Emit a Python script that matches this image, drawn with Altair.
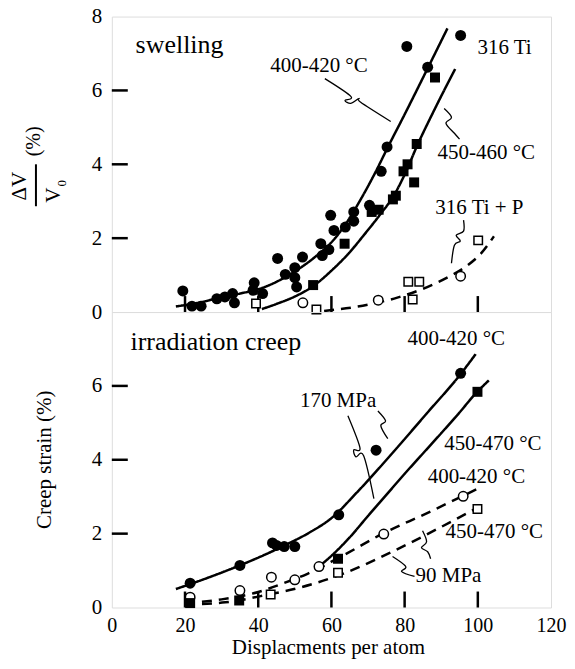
import altair as alt
import pandas as pd

FONT = "Liberation Serif, Times New Roman, Times, DejaVu Serif, serif"
W, H = 440, 296

# ---------------- swelling panel data ----------------
sw_fc_x = [19.4, 21.9, 24.4, 28.7, 30.9, 33.0, 33.5, 38.9, 38.6, 41.2, 45.3, 47.4, 50.0, 50.0, 50.5,
           52.1, 57.1, 57.5, 59.3, 59.8, 60.7, 63.8, 66.1, 66.1, 70.4, 73.6, 75.2, 80.6, 86.3, 95.3]
sw_fc_y = [0.57, 0.16, 0.16, 0.36, 0.41, 0.50, 0.25, 0.79, 0.59, 0.50, 1.45, 1.02, 1.20, 0.93, 0.68,
           1.49, 1.85, 1.53, 1.69, 2.62, 2.21, 2.30, 2.71, 2.46, 2.89, 3.81, 4.47, 7.19, 6.63, 7.49]
sw_fs_x = [55.0, 63.6, 71.0, 72.9, 76.8, 77.6, 79.7, 80.8, 82.6, 83.3, 88.3]
sw_fs_y = [0.73, 1.85, 2.71, 2.77, 3.05, 3.15, 3.81, 4.00, 3.51, 4.55, 6.35]
sw_oc_x = [52.2, 72.8, 95.3]
sw_oc_y = [0.25, 0.32, 0.97]
sw_os_x = [39.4, 55.9, 81.0, 84.0, 82.2, 100.1]
sw_os_y = [0.23, 0.07, 0.82, 0.82, 0.34, 1.94]

sw_c1_x = [17.5, 25, 30, 35, 41, 50, 55, 61, 64, 68, 72, 75.4, 80, 86.3, 91.7]
sw_c1_y = [0.15, 0.28, 0.40, 0.50, 0.65, 1.10, 1.45, 2.00, 2.40, 3.05, 3.78, 4.46, 5.35, 6.60, 7.68]
sw_c2_x = [41, 45, 50, 55, 60, 65, 69, 73, 77.2, 80, 83.4, 88, 93.8]
sw_c2_y = [0.08, 0.22, 0.42, 0.70, 1.12, 1.62, 2.10, 2.60, 3.18, 3.72, 4.50, 5.45, 6.58]
sw_c3_x = [58, 64, 70, 78, 86, 92, 97, 101, 104.4]
sw_c3_y = [0.03, 0.10, 0.20, 0.39, 0.67, 0.95, 1.25, 1.60, 2.05]

sw_lab_text = ["swelling", "400-420 °C", "316 Ti", "450-460 °C", "316 Ti + P"]
sw_lab_x = [6.5, 43.3, 99.9, 89.0, 88.4]
sw_lab_y = [7.24, 6.65, 7.16, 4.30, 2.81]
sw_lab_size = [26, 21, 21, 21, 21]

sw_ld_a_x = [58.2, 65.3, 63.7, 65.3, 67.5, 68.0, 76.2]
sw_ld_a_y = [6.32, 5.84, 5.73, 5.65, 5.78, 5.68, 5.16]
sw_ld_b_x = [90.8, 92.8, 91.3, 93.6, 95.0]
sw_ld_b_y = [5.51, 5.27, 5.11, 4.84, 4.68]
sw_ld_c_x = [96.1, 96.1, 94.1, 95.2, 93.6, 92.8]
sw_ld_c_y = [2.49, 2.19, 2.08, 1.92, 1.81, 1.32]

# ---------------- creep panel data ----------------
cr_fc_x = [21.4, 35.0, 43.9, 45.0, 47.1, 50.0, 62.0, 72.2, 95.3]
cr_fc_y = [0.66, 1.14, 1.75, 1.68, 1.65, 1.65, 2.51, 4.26, 6.34]
cr_fs_x = [21.4, 34.8, 61.8, 99.9]
cr_fs_y = [0.12, 0.19, 1.32, 5.84]
cr_oc_x = [21.4, 35.0, 43.6, 50.0, 56.6, 74.3, 96.0]
cr_oc_y = [0.28, 0.46, 0.82, 0.75, 1.11, 1.99, 3.01]
cr_os_x = [43.4, 61.8, 99.9]
cr_os_y = [0.35, 0.94, 2.67]

cr_c1_x = [17.5, 25, 33.7, 40, 48, 54, 60, 67, 77, 86, 95.3, 99.4]
cr_c1_y = [0.50, 0.76, 1.09, 1.35, 1.72, 2.03, 2.42, 3.12, 4.22, 5.25, 6.32, 6.86]
cr_c2_x = [56.6, 60, 65, 70, 75, 80, 85, 90, 95, 99, 103]
cr_c2_y = [1.11, 1.40, 1.90, 2.48, 3.05, 3.62, 4.17, 4.72, 5.28, 5.75, 6.15]
cr_c3_x = [20, 30, 40, 47, 53.6, 60, 64.5, 74, 86, 100]
cr_c3_y = [0.12, 0.22, 0.42, 0.66, 0.92, 1.24, 1.48, 2.00, 2.55, 3.22]
cr_c4_x = [20, 31, 42.7, 51.8, 63.6, 77.2, 89, 101.7]
cr_c4_y = [0.08, 0.14, 0.35, 0.55, 0.93, 1.54, 2.13, 2.80]

cr_lab_text = ["irradiation creep", "400-420 °C", "170 MPa", "450-470 °C", "400-420 °C", "450-470 °C", "90 MPa"]
cr_lab_x = [5.1, 80.8, 51.4, 90.8, 86.3, 91.2, 83.0]
cr_lab_y = [7.19, 7.27, 5.59, 4.43, 3.54, 2.05, 0.86]
cr_lab_size = [26, 21, 21, 21, 21, 21, 21]

cr_ld_d_x = [64.5, 67.8, 66.1, 66.7, 68.8, 71.6]
cr_ld_d_y = [5.19, 4.32, 4.27, 4.08, 4.11, 2.95]
cr_ld_e_x = [72.7, 74.8, 73.5, 75.4]
cr_ld_e_y = [5.32, 5.05, 4.92, 4.57]
cr_ld_f_x = [76.7, 80.3, 79.2, 82.7]
cr_ld_f_y = [1.38, 1.11, 0.97, 0.84]
cr_ld_g_x = [84.9, 86.0, 84.6, 86.3, 87.1]
cr_ld_g_y = [2.08, 1.78, 1.62, 1.51, 1.32]

x_ticks = [20, 40, 60, 80, 100]
y_ticks = [2, 4, 6]
x_labels = [0, 20, 40, 60, 80, 100, 120]
x_title = "Displacments per atom"
creep_title = "Creep strain (%)"

# ---------------- helpers ----------------
xscale = alt.Scale(domain=[0, 120], nice=False, zero=False)
yscale = alt.Scale(domain=[0, 8], nice=False, zero=False)


def pts(xs, ys):
    return pd.DataFrame({"x": xs, "y": ys})


def curves(specs):
    rows = []
    for name, style, xs, ys in specs:
        for i, (a, b) in enumerate(zip(xs, ys)):
            rows.append({"x": a, "y": b, "curve": name, "style": style, "o": i})
    return pd.DataFrame(rows)


def rot_text(txt, x, y, size):
    return alt.Chart(pd.DataFrame({"t": [txt]})).mark_text(
        angle=270, font=FONT, fontSize=size, align="center", baseline="middle", color="black"
    ).encode(text="t:N", x=alt.value(x), y=alt.value(y))


def panel(xaxis, yaxis, fc, fs, oc, os_, curve_specs, leader_specs, labels, bottom):
    X = alt.X("x:Q", scale=xscale, axis=xaxis)
    Y = alt.Y("y:Q", scale=yscale, axis=yaxis)
    lines = alt.Chart(curves(curve_specs)).mark_line(color="black", strokeWidth=2.5,
                                                     interpolate="monotone").encode(
        x=X, y=Y, detail="curve:N", order="o:Q",
        strokeDash=alt.StrokeDash("style:N", legend=None,
                                  scale=alt.Scale(domain=["solid", "dashed"], range=[[1, 0], [10, 7]])))
    leaders = alt.Chart(curves([(n, "solid", a, b) for n, a, b in leader_specs])).mark_line(
        color="black", strokeWidth=1.3, interpolate="cardinal").encode(
        x=X, y=Y, detail="curve:N", order="o:Q")
    xt = alt.Chart(pd.DataFrame({"x": x_ticks})).mark_rule(color="black", strokeWidth=2.5).encode(
        x=X, y=alt.value(H), y2=alt.value(H - 16))
    yt = alt.Chart(pd.DataFrame({"y": y_ticks})).mark_rule(color="black", strokeWidth=2.5).encode(
        y=Y, x=alt.value(0), x2=alt.value(16))
    p_fc = alt.Chart(fc).mark_point(shape="circle", filled=True, color="black", size=121, opacity=1).encode(x=X, y=Y)
    p_fs = alt.Chart(fs).mark_point(shape="square", filled=True, color="black", size=100, opacity=1).encode(x=X, y=Y)
    p_oc = alt.Chart(oc).mark_point(shape="circle", filled=False, fill="white", fillOpacity=1, stroke="black",
                                    strokeWidth=1.5, size=90, opacity=1).encode(x=X, y=Y)
    p_os = alt.Chart(os_).mark_point(shape="square", filled=False, fill="white", fillOpacity=1, stroke="black",
                                     strokeWidth=1.5, size=72, opacity=1).encode(x=X, y=Y)
    txt = alt.Chart(labels).mark_text(align="left", baseline="middle", font=FONT, color="black").encode(
        x=X, y=Y, text="t:N", size=alt.Size("s:Q", scale=None, legend=None))
    layers = [lines, leaders, xt, yt, p_os, p_oc, p_fs, p_fc, txt]
    if not bottom:
        layers += [
            rot_text("ΔV", -92, 170, 21),
            rot_text("V", -58, 179, 21),
            rot_text("0", -49.5, 167, 13),
            rot_text("(%)", -78, 125, 20),
            alt.Chart(pd.DataFrame({"t": [0]})).mark_rule(color="black", strokeWidth=2).encode(
                x=alt.value(-76), y=alt.value(148), y2=alt.value(190)),
        ]
    else:
        layers += [
            rot_text(creep_title, -66.5, 148, 21),
            alt.Chart(pd.DataFrame({"t": [x_title]})).mark_text(
                font=FONT, fontSize=21, align="center", baseline="alphabetic", color="black"
            ).encode(text="t:N", x=alt.value(217), y=alt.value(H + 47)),
        ]
    return alt.layer(*layers).properties(width=W, height=H)


def labels_df(t, x, y, s):
    return pd.DataFrame({"t": t, "x": x, "y": y, "s": s})


common_y = dict(title=None, ticks=False, domain=False, grid=False, labelFont=FONT, labelFontSize=21,
                labelColor="black", labelPadding=10, labelFlush=False, labelOverlap=False)

top = panel(
    None,
    alt.Axis(values=[0, 2, 4, 6, 8], **common_y),
    pts(sw_fc_x, sw_fc_y), pts(sw_fs_x, sw_fs_y), pts(sw_oc_x, sw_oc_y), pts(sw_os_x, sw_os_y),
    [("a", "solid", sw_c1_x, sw_c1_y), ("b", "solid", sw_c2_x, sw_c2_y), ("c", "dashed", sw_c3_x, sw_c3_y)],
    [("la", sw_ld_a_x, sw_ld_a_y), ("lb", sw_ld_b_x, sw_ld_b_y), ("lc", sw_ld_c_x, sw_ld_c_y)],
    labels_df(sw_lab_text, sw_lab_x, sw_lab_y, sw_lab_size), False)

bot = panel(
    alt.Axis(values=x_labels, title=None, ticks=False, domain=False, grid=False, labelFont=FONT,
             labelFontSize=20, labelColor="black", labelPadding=8, labelFlush=False, labelOverlap=False),
    alt.Axis(values=[0, 2, 4, 6], **common_y),
    pts(cr_fc_x, cr_fc_y), pts(cr_fs_x, cr_fs_y), pts(cr_oc_x, cr_oc_y), pts(cr_os_x, cr_os_y),
    [("a", "solid", cr_c1_x, cr_c1_y), ("b", "solid", cr_c2_x, cr_c2_y),
     ("c", "dashed", cr_c3_x, cr_c3_y), ("d", "dashed", cr_c4_x, cr_c4_y)],
    [("ld", cr_ld_d_x, cr_ld_d_y), ("le", cr_ld_e_x, cr_ld_e_y), ("lf", cr_ld_f_x, cr_ld_f_y),
     ("lg", cr_ld_g_x, cr_ld_g_y)],
    labels_df(cr_lab_text, cr_lab_x, cr_lab_y, cr_lab_size), True)

chart = alt.vconcat(top, bot, spacing=0, bounds="flush").properties(
    padding={"left": 0, "top": -4, "right": 0, "bottom": 1.5}
).configure_view(stroke="black", strokeWidth=2.5).configure(background="white")

chart.save("out.html", embed_options={"renderer": "svg", "actions": False})
